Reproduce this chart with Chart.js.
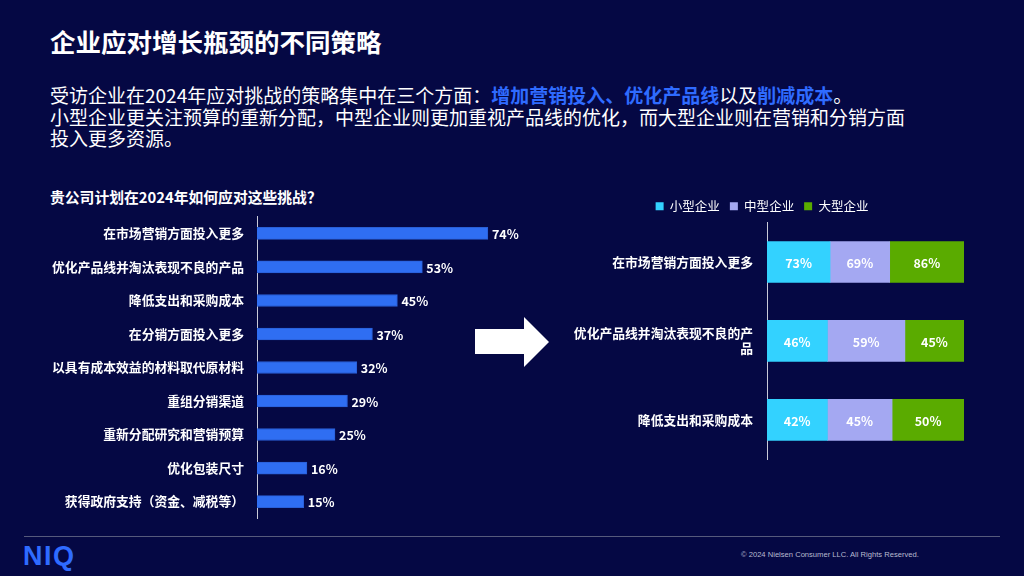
<!DOCTYPE html>
<html>
<head>
<meta charset="utf-8">
<script src="https://cdn.jsdelivr.net/npm/chart.js@4"></script>
<style>
  html, body { margin: 0; padding: 0; }
  body {
    width: 1024px; height: 576px; overflow: hidden; position: relative;
    background: #050844; color: #fff;
    font-family: "Noto Sans CJK SC", "Noto Sans", sans-serif;
  }
  .title { position: absolute; left: 50px; top: 22px; font-size: 25.5px; font-weight: bold; }
  .intro { position: absolute; left: 50px; top: 84px; font-size: 19px; line-height: 21.5px; }
  .intro b { color: #2f6bff; }
  .qtitle { position: absolute; left: 50px; top: 186px; font-size: 14.8px; font-weight: bold; }
  #leftWrap { position: absolute; left: 0; top: 196px; width: 569px; height: 343px; }
  #rightWrap { position: absolute; left: 560px; top: 190px; width: 404px; height: 291px; }
  .arrow { position: absolute; left: 474px; top: 316px; }
  .footline { position: absolute; left: 24px; top: 536px; width: 976px; height: 1px; background: #565a7c; }
  .logo { position: absolute; left: 23px; top: 541px; font-size: 27px; font-weight: bold; color: #2f6bff; font-family: "Liberation Sans", Arial, sans-serif; letter-spacing: 1.5px; }
  .copy { position: absolute; left: 741px; top: 550px; font-size: 7.6px; color: #b8bbd0; font-family: "Liberation Sans", Arial, sans-serif; }
</style>
</head>
<body>
<div class="title">企业应对增长瓶颈的不同策略</div>
<div class="intro">
  受访企业在2024年应对挑战的策略集中在三个方面：<b>增加营销投入、优化产品线</b>以及<b>削减成本</b>。<br>
  小型企业更关注预算的重新分配，中型企业则更加重视产品线的优化，而大型企业则在营销和分销方面<br>
  投入更多资源。
</div>
<div class="qtitle">贵公司计划在2024年如何应对这些挑战？</div>

<div id="leftWrap"><canvas id="strategyChart"></canvas></div>
<div id="rightWrap"><canvas id="sizeChart"></canvas></div>

<svg class="arrow" width="80" height="54" viewBox="0 0 80 54">
  <polygon points="1,13 50,13 50,1 75,26 50,51 50,38 1,38" fill="#ffffff"/>
</svg>

<div class="footline"></div>
<div class="logo">NIQ</div>
<div class="copy">© 2024 Nielsen Consumer LLC. All Rights Reserved.</div>

<script>
const strategyLabels = [
    '在市场营销方面投入更多',
    '优化产品线并淘汰表现不良的产品',
    '降低支出和采购成本',
    '在分销方面投入更多',
    '以具有成本效益的材料取代原材料',
    '重组分销渠道',
    '重新分配研究和营销预算',
    '优化包装尺寸',
    '获得政府支持（资金、减税等）'
];
const strategyValues = [74, 53, 45, 37, 32, 29, 25, 16, 15];

const sizeLabels = [
    '在市场营销方面投入更多',
    ['优化产品线并淘汰表现不良的产', '品'],
    '降低支出和采购成本'
];
const sizeNames = ['小型企业', '中型企业', '大型企业'];
const smallValues = [73, 46, 42];
const mediumValues = [69, 59, 45];
const largeValues = [86, 45, 50];

const FONT = '"Noto Sans CJK SC", "Noto Sans", sans-serif';

// 막대 끝에 값 표시
const endLabels = {
    id: 'endLabels',
    afterDatasetsDraw(chart) {
        const ctx = chart.ctx;
        ctx.save();
        ctx.font = 'bold 12.5px ' + FONT;
        ctx.fillStyle = '#ffffff';
        ctx.textAlign = 'left';
        ctx.textBaseline = 'middle';
        chart.getDatasetMeta(0).data.forEach((bar, i) => {
            ctx.fillText(chart.data.datasets[0].data[i] + '%', bar.x + 4, bar.y + 1);
        });
        ctx.restore();
    }
};

// 누적 막대 가운데에 원래 값 표시
const centerLabels = {
    id: 'centerLabels',
    afterDatasetsDraw(chart) {
        const ctx = chart.ctx;
        ctx.save();
        ctx.font = 'bold 12.5px ' + FONT;
        ctx.fillStyle = '#ffffff';
        ctx.textAlign = 'center';
        ctx.textBaseline = 'middle';
        chart.data.datasets.forEach((ds, di) => {
            chart.getDatasetMeta(di).data.forEach((bar, i) => {
                const cx = (bar.x + bar.base) / 2;
                ctx.fillText(ds.raw[i] + '%', cx, bar.y + 1);
            });
        });
        ctx.restore();
    }
};

new Chart(document.getElementById('strategyChart'), {
    type: 'bar',
    data: {
        labels: strategyLabels,
        datasets: [{
            data: strategyValues,
            backgroundColor: '#2f6ef2',
            borderColor: '#2a5fd6',
            borderWidth: 1,
            barThickness: 12
        }]
    },
    options: {
        indexAxis: 'y',
        responsive: true,
        maintainAspectRatio: false,
        animation: false,
        layout: { padding: { top: 6, bottom: 6, left: 0, right: 0 } },
        plugins: { legend: { display: false }, tooltip: { enabled: false } },
        scales: {
            x: { display: false, min: 0, max: 100 },
            y: {
                afterFit(scale) { scale.width = 257; },
                grid: { display: false, drawTicks: false },
                border: { display: true, color: '#c9cad8', width: 1 },
                ticks: {
                    color: '#ffffff',
                    padding: 13,
                    font: { family: FONT, size: 12.8, weight: 'bold' }
                }
            }
        }
    },
    plugins: [endLabels]
});

const totals = smallValues.map((v, i) => v + mediumValues[i] + largeValues[i]);
const share = arr => arr.map((v, i) => v / totals[i] * 100);

new Chart(document.getElementById('sizeChart'), {
    type: 'bar',
    data: {
        labels: sizeLabels,
        datasets: [
            { label: sizeNames[0], data: share(smallValues), raw: smallValues, backgroundColor: '#33d2ff', barThickness: 41 },
            { label: sizeNames[1], data: share(mediumValues), raw: mediumValues, backgroundColor: '#a4a8f2', barThickness: 41 },
            { label: sizeNames[2], data: share(largeValues), raw: largeValues, backgroundColor: '#5aab00', barThickness: 41 }
        ]
    },
    options: {
        indexAxis: 'y',
        responsive: true,
        maintainAspectRatio: false,
        animation: false,
        layout: { padding: 0 },
        plugins: {
            tooltip: { enabled: false },
            legend: {
                position: 'top',
                labels: {
                    color: '#ffffff',
                    boxWidth: 8,
                    boxHeight: 8,
                    padding: 10,
                    font: { family: FONT, size: 12.5 }
                }
            }
        },
        scales: {
            x: { display: false, stacked: true, min: 0, max: 100 },
            y: {
                stacked: true,
                afterFit(scale) { scale.width = 207; },
                grid: { display: false, drawTicks: false },
                border: { display: true, color: '#c9cad8', width: 1 },
                ticks: {
                    color: '#ffffff',
                    padding: 14,
                    font: { family: FONT, size: 12.8, weight: 'bold' }
                }
            }
        }
    },
    plugins: [centerLabels]
});
</script>
</body>
</html>
